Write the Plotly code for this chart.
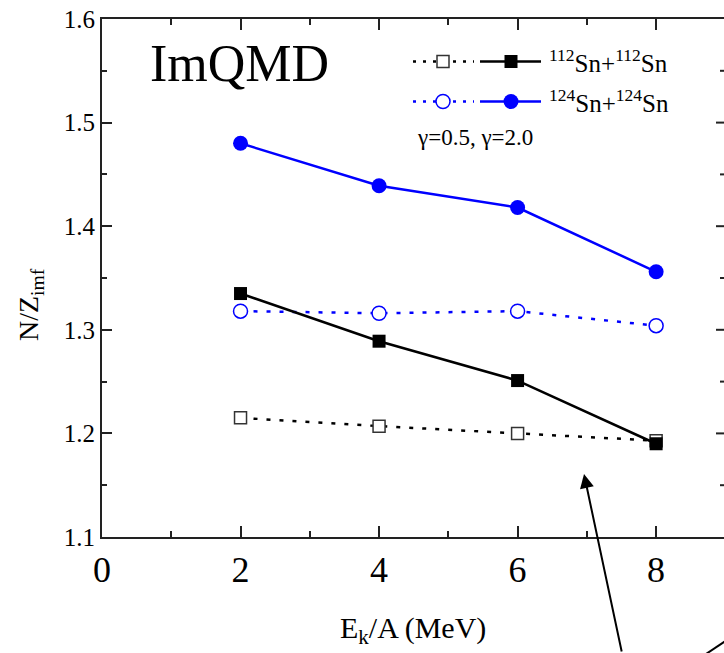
import plotly.graph_objects as go

# Beam energy per nucleon (MeV)
energy = [2, 4, 6, 8]

# N/Z of intermediate mass fragments, ImQMD
nz_112_g05 = [1.215, 1.207, 1.200, 1.193]   # 112Sn+112Sn, gamma=0.5
nz_112_g20 = [1.335, 1.289, 1.251, 1.190]   # 112Sn+112Sn, gamma=2.0
nz_124_g05 = [1.318, 1.316, 1.318, 1.304]   # 124Sn+124Sn, gamma=0.5
nz_124_g20 = [1.480, 1.439, 1.418, 1.356]   # 124Sn+124Sn, gamma=2.0

y_ticks = [1.1, 1.2, 1.3, 1.4, 1.5, 1.6]
x_ticks = [0, 2, 4, 6, 8]

W, H = 724, 653
L, R, T, B = 102, 0, 19, 116
FONT = "Liberation Serif"
BLUE = "#0000ff"
BLACK = "#000000"
DOT = "4px,9px"


def px(xp):
    return (xp - L) / (W - L - R)


def py(yp):
    return (H - B - yp) / (H - T - B)


fig = go.Figure()

# dotted (gamma=0.5) series, open markers
fig.add_trace(go.Scatter(
    x=energy, y=nz_112_g05, mode="lines+markers",
    line=dict(color=BLACK, width=2.5, dash=DOT),
    marker=dict(symbol="square", size=12, color="white",
                line=dict(color="#333333", width=1.5)),
    showlegend=False))
fig.add_trace(go.Scatter(
    x=energy, y=nz_124_g05, mode="lines+markers",
    line=dict(color=BLUE, width=2.5, dash=DOT),
    marker=dict(symbol="circle", size=14, color="white",
                line=dict(color=BLUE, width=1.5)),
    showlegend=False))
# solid (gamma=2.0) series, filled markers
fig.add_trace(go.Scatter(
    x=energy, y=nz_112_g20, mode="lines+markers",
    line=dict(color=BLACK, width=2.5),
    marker=dict(symbol="square", size=13, color=BLACK),
    showlegend=False))
fig.add_trace(go.Scatter(
    x=energy, y=nz_124_g20, mode="lines+markers",
    line=dict(color=BLUE, width=2.5),
    marker=dict(symbol="circle", size=15, color=BLUE),
    showlegend=False))

# hand-made legend keys on a pixel-based overlay axis
legend_rows = [(61.5, BLACK, "square", 12, 13, "#333333"),
               (101.5, BLUE, "circle", 14, 15, BLUE)]
for yrow, col, sym, s_open, s_fill, edge in legend_rows:
    fig.add_trace(go.Scatter(
        x=[413, 474], y=[yrow, yrow], mode="lines", xaxis="x2", yaxis="y2",
        line=dict(color=col, width=2.5, dash="3px,7px"), showlegend=False))
    fig.add_trace(go.Scatter(
        x=[443], y=[yrow], mode="markers", xaxis="x2", yaxis="y2",
        marker=dict(symbol=sym, size=s_open, color="white",
                    line=dict(color=edge, width=1.5)), showlegend=False))
    fig.add_trace(go.Scatter(
        x=[480, 541], y=[yrow, yrow], mode="lines", xaxis="x2", yaxis="y2",
        line=dict(color=col, width=2.5), showlegend=False))
    fig.add_trace(go.Scatter(
        x=[511], y=[yrow], mode="markers", xaxis="x2", yaxis="y2",
        marker=dict(symbol=sym, size=s_fill, color=col), showlegend=False))

annotations = [
    dict(x=px(239), y=py(63), text="ImQMD", font=dict(family=FONT, size=52, color=BLACK)),
    dict(x=px(547), y=py(61), text="<sup>112</sup>Sn+<sup>112</sup>Sn", xanchor="left",
         font=dict(family=FONT, size=25, color=BLACK)),
    dict(x=px(547), y=py(101), text="<sup>124</sup>Sn+<sup>124</sup>Sn", xanchor="left",
         font=dict(family=FONT, size=25, color=BLACK)),
    dict(x=px(415), y=py(137), text="γ=0.5, γ=2.0", xanchor="left",
         font=dict(family=FONT, size=23, color=BLACK)),
    dict(x=px(413), y=py(630), text="E<sub>k</sub>/A (MeV)",
         font=dict(family=FONT, size=30, color=BLACK)),
    dict(x=px(30), y=py(305), text="N/Z<sub>imf</sub>", textangle=-90,
         font=dict(family=FONT, size=28, color=BLACK)),
]
for a in annotations:
    a.setdefault("xanchor", "center")
    a.update(xref="paper", yref="paper", yanchor="middle", showarrow=False)

# pointer arrow
annotations.append(dict(
    x=px(584), y=py(474), xref="paper", yref="paper",
    ax=38, ay=190, axref="pixel", ayref="pixel",
    showarrow=True, arrowhead=2, arrowsize=1.4, arrowwidth=2, arrowcolor=BLACK, text=""))

shapes = []
# right-hand mirrored y ticks (axis line lies just beyond the frame)
for v in [1.15, 1.2, 1.25, 1.3, 1.35, 1.4, 1.45, 1.5, 1.55]:
    major = abs(round(v * 10) - v * 10) < 1e-6
    ln = 8 if major else 4
    shapes.append(dict(type="line", xref="paper", yref="y",
                       x0=1, x1=1 - ln / (W - L - R), y0=v, y1=v,
                       line=dict(color="#222222", width=2)))
# stray line at lower right
shapes.append(dict(type="line", xref="paper", yref="paper",
                   x0=px(700), y0=py(658), x1=px(727), y1=py(640),
                   line=dict(color=BLACK, width=2)))

axis_font = dict(family=FONT, color=BLACK)
fig.update_layout(
    width=W, height=H,
    margin=dict(l=L, r=R, t=T, b=B, pad=0),
    paper_bgcolor="white", plot_bgcolor="white",
    xaxis=dict(range=[0, 8.98], tickvals=x_ticks, ticktext=[str(v) for v in x_ticks],
               ticks="inside", ticklen=11, tickwidth=2, tickcolor="#222222",
               minor=dict(dtick=1, ticks="inside", ticklen=6, tickwidth=2, tickcolor="#222222"),
               showline=True, linewidth=2, linecolor="#222222", mirror="allticks",
               showgrid=False, zeroline=False,
               tickfont=dict(size=36, **axis_font)),
    yaxis=dict(range=[1.1, 1.6], tickvals=y_ticks, ticktext=[f"{v:.1f}" for v in y_ticks],
               ticks="inside", ticklen=10, tickwidth=2, tickcolor="#222222",
               minor=dict(dtick=0.05, ticks="inside", ticklen=5, tickwidth=2, tickcolor="#222222"),
               showline=True, linewidth=2, linecolor="#222222",
               showgrid=False, zeroline=False,
               tickfont=dict(size=25, **axis_font)),
    xaxis2=dict(overlaying="x", range=[L, W - R], visible=False),
    yaxis2=dict(overlaying="y", range=[H - B, T], visible=False),
    annotations=annotations,
    shapes=shapes,
)

fig.write_html("out.html")
